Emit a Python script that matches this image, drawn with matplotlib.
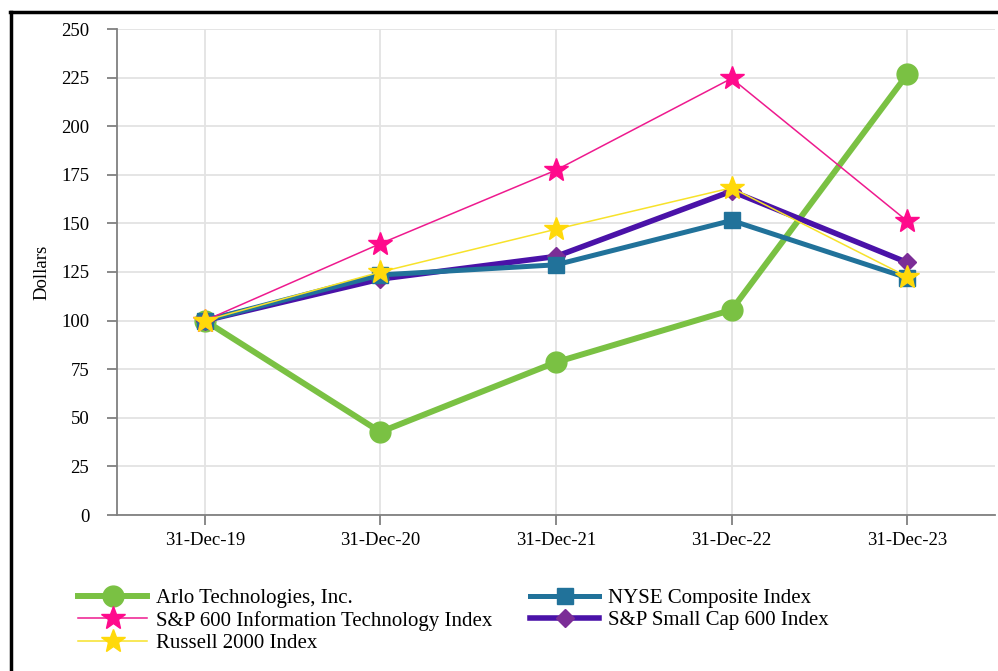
import matplotlib
matplotlib.use("Agg")
import matplotlib.pyplot as plt
from matplotlib.lines import Line2D

plt.rcParams['font.family'] = ['Liberation Serif', 'DejaVu Serif']

dates = ["31-Dec-19", "31-Dec-20", "31-Dec-21", "31-Dec-22", "31-Dec-23"]
arlo = [100, 42.7, 78.6, 105.5, 226.6]
nyse = [100, 123.5, 128.7, 151.5, 122.0]
sp600_it = [100, 139.6, 177.4, 224.6, 151.2]
sp600_small = [100, 121.4, 133.0, 166.6, 129.9]
russell = [100, 125.0, 147.0, 168.3, 122.6]
y_ticks = [0, 25, 50, 75, 100, 125, 150, 175, 200, 225, 250]

fig = plt.figure(figsize=(9.98, 6.71), dpi=100)
ax = fig.add_axes([117/998, 1-515/671, (995-117)/998, (515-29)/671])

x = list(range(len(dates)))

l_arlo, = ax.plot(x, arlo, color='#7AC143', lw=4.3, marker='o', ms=15,
                  mfc='#7AC143', mec='#7AC143', zorder=3, label='Arlo Technologies, Inc.')
l_small, = ax.plot(x, sp600_small, color='#4A12A8', lw=4.0, marker='D', ms=9,
                   mfc='#7B2D96', mec='#7B2D96', zorder=4, label='S&P Small Cap 600 Index')
l_nyse, = ax.plot(x, nyse, color='#21729A', lw=3.6, marker='s', ms=12,
                  mfc='#21729A', mec='#21729A', zorder=5, label='NYSE Composite Index')
l_it, = ax.plot(x, sp600_it, color='#EE1A8E', lw=1.1, marker='*', ms=18,
                mfc='#FF0A8C', mec='#FF0A8C', zorder=6, label='S&P 600 Information Technology Index')
l_rus, = ax.plot(x, russell, color='#F7E22A', lw=1.1, marker='*', ms=18,
                 mfc='#FFD90A', mec='#FFD90A', zorder=7, label='Russell 2000 Index')

ax.set_xlim(-0.5, 4.5)
ax.set_ylim(0, 250)
ax.set_yticks(y_ticks)
ax.set_xticks(x)
ax.set_xticklabels(dates)
ax.grid(True, color='#E3E3E3', lw=1.3, zorder=0)
ax.set_axisbelow(True)
for s in ['top', 'right']:
    ax.spines[s].set_visible(False)
for s in ['left', 'bottom']:
    ax.spines[s].set_color('#808080')
    ax.spines[s].set_linewidth(1.3)
ax.tick_params(axis='both', colors='#808080', length=7, width=1.3, labelcolor='black', labelsize=13.5)
ax.tick_params(axis='x', pad=5)
ax.tick_params(axis='y', pad=13)
ax.set_ylabel('Dollars', fontsize=13.5, labelpad=8)

handles = [l_arlo, l_it, l_rus, l_nyse, l_small]
fig.legend(handles=handles, labels=[h.get_label() for h in handles], loc='upper left',
           bbox_to_anchor=(70/998, 1-580/671), ncol=2, frameon=False, fontsize=15,
           handlelength=3.3, handletextpad=0.45, columnspacing=1.8, labelspacing=0.14,
           borderaxespad=0)

# outer frame (left and top edges visible)
fig.add_artist(Line2D([10.5/998, 10.5/998], [0, 1-12/671], color='black', lw=2.5,
                      transform=fig.transFigure))
fig.add_artist(Line2D([9.5/998, 1.0], [1-12/671, 1-12/671], color='black', lw=2.5,
                      transform=fig.transFigure))

fig.savefig('out.png', dpi=100)
